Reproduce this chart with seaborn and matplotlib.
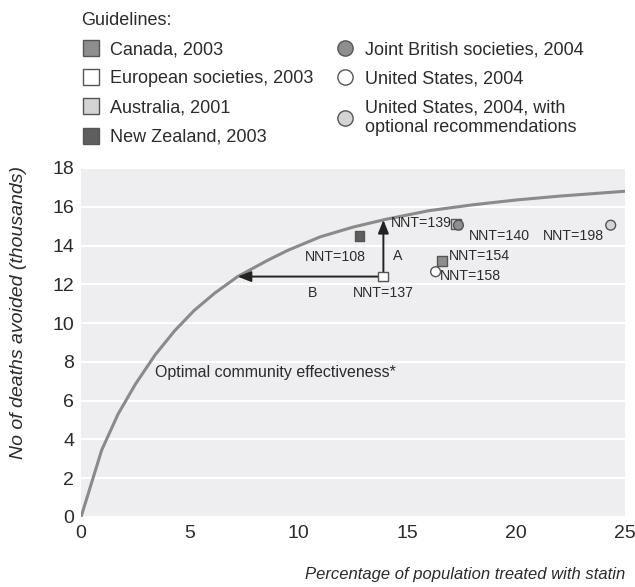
import numpy as np
import pandas as pd
import matplotlib
matplotlib.use("Agg")
import matplotlib.pyplot as plt
from matplotlib.lines import Line2D
import seaborn as sns

# curve
curve_x = [0, 0.95, 1.7, 2.5, 3.4, 4.3, 5.2, 6.15, 7.2, 8.6, 9.5, 11, 12.5, 14, 16, 18, 20, 22, 25]
curve_y = [0, 3.45, 5.3, 6.85, 8.35, 9.6, 10.65, 11.55, 12.4, 13.25, 13.75, 14.45, 14.95, 15.35, 15.8, 16.1, 16.35, 16.55, 16.8]

guidelines = ["Canada, 2003", "European societies, 2003", "Australia, 2001", "New Zealand, 2003",
              "Joint British societies, 2004", "United States, 2004",
              "United States, 2004, with\noptional recommendations"]
pt_x = [16.6, 13.9, 17.25, 12.8, 17.35, 16.3, 24.35]
pt_y = [13.2, 12.4, 15.1, 14.5, 15.05, 12.65, 15.05]
nnt = [154, 137, 139, 108, 140, 158, 198]
fills = ["#8e8e8e", "white", "#d4d4d4", "#5e5e5e", "#8e8e8e", "white", "#d4d4d4"]
shapes = ["s", "s", "s", "s", "o", "o", "o"]

df = pd.DataFrame({"guideline": guidelines, "x": pt_x, "y": pt_y, "nnt": nnt})

sns.set_theme(style="white")
plt.rcParams["font.family"] = ["Liberation Sans", "DejaVu Sans"]
txt = "#2b2b2b"

fig = plt.figure(figsize=(6.35, 5.87), dpi=100)
ax = fig.add_axes([0.1276, 0.1193, 0.8564, 0.5945])
ax.set_facecolor("#eeeef0")
for s in ax.spines.values():
    s.set_visible(False)

ax.set_xlim(0, 25)
ax.set_ylim(0, 18)
ax.set_yticks(range(0, 19, 2))
ax.set_xticks(range(0, 26, 5))
ax.yaxis.grid(True, color="white", lw=1.6)
ax.set_axisbelow(True)
ax.tick_params(axis="y", length=0, labelsize=14, labelcolor=txt, pad=5)
ax.tick_params(axis="x", direction="in", length=4, width=1.2, color="white",
               labelsize=14, labelcolor=txt, pad=6)

sns.lineplot(x=curve_x, y=curve_y, ax=ax, color="#8a8a8a", lw=2.2, zorder=2)

# arrows from the European point to the curve
ex, ey = pt_x[1], pt_y[1]
top_y = np.interp(ex, curve_x, curve_y)
left_x = np.interp(ey, curve_y, curve_x)
arrow = dict(arrowstyle="-|>,head_length=0.5,head_width=0.2", color="#222222", lw=1.4,
             mutation_scale=16, shrinkA=0, shrinkB=0)
ax.annotate("", xy=(ex, top_y), xytext=(ex, ey), arrowprops=arrow, zorder=3)
ax.annotate("", xy=(left_x, ey), xytext=(ex, ey), arrowprops=arrow, zorder=3)

sns.scatterplot(data=df, x="x", y="y", hue="guideline", style="guideline",
                palette=dict(zip(guidelines, fills)), markers=dict(zip(guidelines, shapes)),
                s=50, edgecolor="#555555", linewidth=1.0, legend=False, ax=ax, zorder=4)

lab = dict(fontsize=10.2, color=txt)
ax.text(13.1, 13.4, "NNT=%d" % nnt[3], ha="right", va="center", **lab)
ax.text(13.9, 11.55, "NNT=%d" % nnt[1], ha="center", va="center", **lab)
ax.text(17.05, 15.15, "NNT=%d" % nnt[2], ha="right", va="center", **lab)
ax.text(17.85, 14.5, "NNT=%d" % nnt[4], ha="left", va="center", **lab)
ax.text(16.9, 13.45, "NNT=%d" % nnt[0], ha="left", va="center", **lab)
ax.text(16.5, 12.45, "NNT=%d" % nnt[5], ha="left", va="center", **lab)
ax.text(24.05, 14.5, "NNT=%d" % nnt[6], ha="right", va="center", **lab)
ax.text(14.55, 13.45, "A", ha="center", va="center", **lab)
ax.text(10.65, 11.55, "B", ha="center", va="center", **lab)
ax.text(3.4, 7.45, "Optimal community effectiveness*", fontsize=11.5, color=txt,
        ha="left", va="center")

ax.set_xlabel("Percentage of population treated with statin", fontsize=12,
              style="italic", color=txt, loc="right", labelpad=18)
ax.set_ylabel("No of deaths avoided (thousands)", fontsize=14,
              style="italic", color=txt)
ax.yaxis.set_label_coords(-0.1, 0.585)

handles = [Line2D([], [], ls="none", marker=m, markersize=11, markerfacecolor=f,
                  markeredgecolor="#555555", markeredgewidth=1.0)
           for m, f in zip(shapes, fills)]
leg = fig.legend(handles, guidelines, loc="upper left", bbox_to_anchor=(0.11, 1.0),
                 ncol=2, frameon=False, title="Guidelines:", alignment="left",
                 fontsize=13, title_fontsize=13, handlelength=1.0,
                 handletextpad=0.6, columnspacing=1.25, labelspacing=0.68,
                 borderaxespad=0.25, labelcolor=txt)
leg.get_title().set_color(txt)

fig.savefig("out.png", dpi=100)
